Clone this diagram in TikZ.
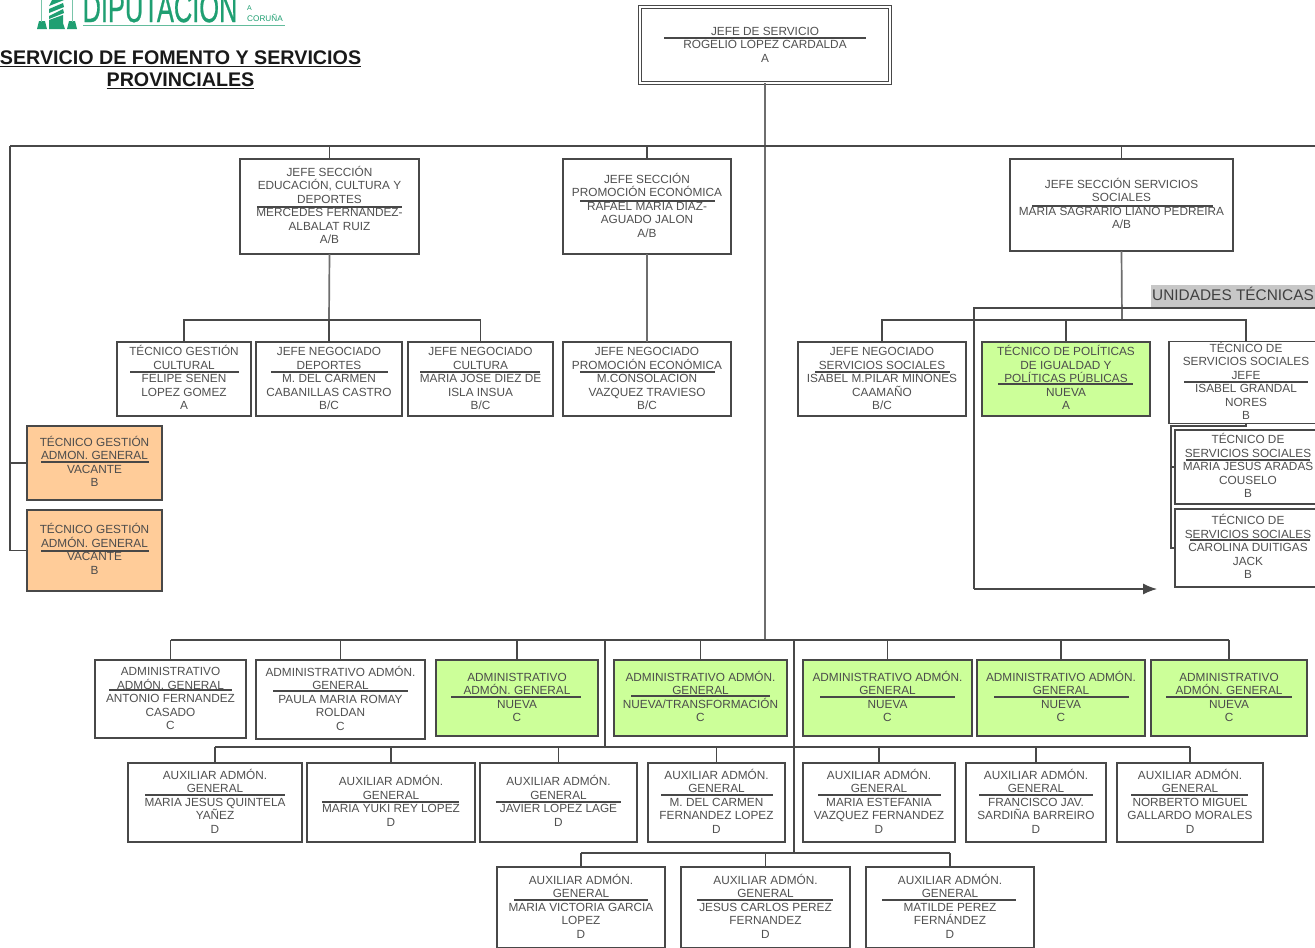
\documentclass[tikz,border=0pt]{standalone}
\usepackage{fontspec}
\setmainfont{Liberation Sans}
\newfontfamily\logofont[FakeBold=0.8]{Liberation Sans}
\usetikzlibrary{arrows.meta}
\definecolor{ink}{HTML}{484848}
\definecolor{txt}{HTML}{505050}
\definecolor{trunkc}{HTML}{6E6E6E}
\definecolor{newg}{HTML}{CCFF99}
\definecolor{vac}{HTML}{FFCC99}
\definecolor{logog}{HTML}{1F9F72}
\tikzset{
  orgbox/.style={draw=ink,line width=1.3pt,fill=white,inner sep=0pt,outer sep=0pt,align=center,text=txt,
    font=\fontsize{11.8}{13.5}\selectfont},
  newbox/.style={orgbox,fill=newg,text=black!70},
  vacbox/.style={orgbox,fill=vac,text=black!70},
  chief/.style={orgbox,double=white,double distance=1.6pt,line width=1.1pt},
  link/.style={draw=ink,line width=1.2pt},
  trunk/.style={draw=trunkc,line width=1.7pt},
  divider/.style={draw=ink,line width=1.2pt},
}
% [style]{name}{x1}{y1}{x2}{y2}{text}
\newcommand{\obox}[7][orgbox]{%
  \pgfmathsetmacro{\oW}{#5-#3}\pgfmathsetmacro{\oH}{#6-#4}%
  \pgfmathsetmacro{\oX}{(#3+#5)/2}\pgfmathsetmacro{\oY}{(#4+#6)/2}%
  \node[#1,minimum width=\oW pt,minimum height=\oH pt] (#2) at (\oX,\oY) {\rule{0pt}{11pt}#7\rule[-4pt]{0pt}{4pt}};%
}
\newcommand{\orule}[3]{\draw[divider] (#1,#3) -- (#2,#3);}
\begin{document}
\begin{tikzpicture}[x=1pt,y=-1pt]
\useasboundingbox (0,0) rectangle (1315,948);
\clip (0,0) rectangle (1315,948);
\fill[white] (0,0) rectangle (1315,948);

% logo
\fill[logog] (37,29) -- (39,21) -- (45,21) -- (47,29) -- cycle;
\fill[logog] (67,29) -- (69,21) -- (75,21) -- (77,29) -- cycle;
\draw[logog!60,line width=.8pt] (41.5,0) -- (41.5,22) (72.5,0) -- (72.5,22);
\fill[logog] (49,29) -- (49,20) -- (63,15) -- (63,23) -- (65,29) -- cycle;
\fill[logog] (49,16) -- (63,9) -- (64,13) -- (49,19) -- cycle;
\fill[logog] (49,9) -- (63,3) -- (64,7) -- (49,13) -- cycle;
\fill[logog] (52,0) -- (64,0) -- (49,6) -- cycle;
\node[anchor=base,inner sep=0pt,text=logog,font=\logofont\fontsize{41}{41}\selectfont] (logoword) at (160,22) {\scalebox{.62}[1]{DIPUTACIÓN}};
\draw[logog!70,line width=1pt] (83,25) -- (285,25);
\node[anchor=base west,inner sep=0pt,text=logog,font=\fontsize{7}{8}\selectfont] (logoa) at (247,10) {A};
\node[anchor=base west,inner sep=0pt,text=logog,font=\fontsize{8.2}{8}\selectfont] (logoc) at (247,21) {CORUÑA};

% title
\node[align=center,inner sep=0pt,text=black!90,font=\fontsize{19.7}{22}\bfseries\selectfont] (title) at (180.5,70)
  {\underline{SERVICIO DE FOMENTO Y SERVICIOS}\\\underline{PROVINCIALES}};

% label
\fill[black!22] (1151,285) rectangle (1315,307);
\node[anchor=base west,inner sep=0pt,text=black!75,font=\fontsize{15.4}{16}\selectfont] (unidades) at (1152,300.5) {UNIDADES TÉCNICAS};

% boxes
\obox[chief]{jefe}{640}{7}{890}{83}{JEFE DE SERVICIO\\ROGELIO LOPEZ CARDALDA\\A}
\orule{664}{866}{38}
\obox{secedu}{240}{159}{419}{254}{JEFE SECCIÓN\\EDUCACIÓN, CULTURA  Y\\DEPORTES\\MERCEDES FERNANDEZ-\\ALBALAT RUIZ\\A/B}
\orule{257}{402}{207}
\obox{secprom}{563}{159}{731}{254}{JEFE SECCIÓN\\PROMOCIÓN ECONÓMICA\\RAFAEL MARIA DIAZ-\\AGUADO JALON\\A/B}
\orule{580}{715}{201}
\obox{secserv}{1010}{159}{1233}{251}{JEFE SECCIÓN SERVICIOS\\SOCIALES\\MARIA SAGRARIO LIANO PEDREIRA\\A/B}
\orule{1032}{1213}{206}

\obox{tgc}{117}{342}{251}{416}{TÉCNICO GESTIÓN\\CULTURAL\\FELIPE SENEN\\LOPEZ GOMEZ\\A}
\orule{130}{239}{372}
\obox{jnd}{256}{342}{402}{416}{JEFE NEGOCIADO\\DEPORTES\\M. DEL CARMEN\\CABANILLAS CASTRO\\B/C}
\orule{271}{388}{372}
\obox{jnc}{408}{342}{553}{416}{JEFE NEGOCIADO\\CULTURA\\MARIA JOSE DIEZ DE\\ISLA INSUA\\B/C}
\orule{420}{540}{372}
\obox{jnp}{563}{342}{731}{416}{JEFE NEGOCIADO\\PROMOCIÓN ECONÓMICA\\M.CONSOLACION\\VAZQUEZ TRAVIESO\\B/C}
\orule{580}{715}{372}
\obox{jns}{798}{342}{966}{416}{JEFE NEGOCIADO\\SERVICIOS SOCIALES\\ISABEL M.PILAR MIÑONES\\CAAMAÑO\\B/C}
\orule{815}{950}{372}
\obox[newbox]{tpol}{982}{342}{1150}{416}{TÉCNICO DE POLÍTICAS\\DE IGUALDAD Y\\POLÍTICAS PÚBLICAS\\NUEVA\\A}
\orule{998}{1133}{384}
\obox{tsj}{1169}{342}{1323}{423}{TÉCNICO DE\\SERVICIOS SOCIALES\\JEFE\\ISABEL GRANDAL\\NORES\\B}
\orule{1184}{1308}{382}
\obox{tsa}{1175}{430}{1321}{504}{TÉCNICO DE\\SERVICIOS SOCIALES\\MARIA JESUS ARADAS\\COUSELO\\B}
\orule{1186}{1310}{460}
\obox{tsb}{1175}{509}{1321}{587}{TÉCNICO DE\\SERVICIOS SOCIALES\\CAROLINA DUITIGAS\\JACK\\B}
\orule{1190}{1310}{540}

\obox[vacbox]{tga}{27}{426}{162}{500}{TÉCNICO GESTIÓN\\ADMON. GENERAL\\VACANTE\\B}
\orule{41}{149}{462}
\obox[vacbox]{tgb}{27}{510}{162}{591}{TÉCNICO GESTIÓN\\ADMÓN. GENERAL\\VACANTE\\B}
\orule{41}{149}{551}

\obox{ad1}{95}{660}{246}{738}{ADMINISTRATIVO\\ADMÓN. GENERAL\\ANTONIO FERNANDEZ\\CASADO\\C}
\orule{109}{232}{690}
\obox{ad2}{256}{660}{425}{739}{ADMINISTRATIVO ADMÓN.\\GENERAL\\PAULA MARIA ROMAY\\ROLDAN\\C}
\orule{273}{408}{691}
\obox[newbox]{ad3}{436}{660}{598}{736}{ADMINISTRATIVO\\ADMÓN. GENERAL\\NUEVA\\C}
\orule{451}{581}{697}
\obox[newbox]{ad4}{614}{660}{787}{736}{ADMINISTRATIVO ADMÓN.\\GENERAL\\NUEVA/TRANSFORMACIÓN\\C}
\orule{631}{770}{696}
\obox[newbox]{ad5}{803}{660}{972}{736}{ADMINISTRATIVO ADMÓN.\\GENERAL\\NUEVA\\C}
\orule{820}{955}{697}
\obox[newbox]{ad6}{977}{660}{1145}{736}{ADMINISTRATIVO ADMÓN.\\GENERAL\\NUEVA\\C}
\orule{994}{1129}{697}
\obox[newbox]{ad7}{1151}{660}{1307}{736}{ADMINISTRATIVO\\ADMÓN. GENERAL\\NUEVA\\C}
\orule{1166}{1292}{697}

\obox{au1}{128}{763}{302}{842}{AUXILIAR ADMÓN.\\GENERAL\\MARIA JESUS QUINTELA\\YAÑEZ\\D}
\orule{145}{285}{795}
\obox{au2}{307}{763}{475}{842}{AUXILIAR ADMÓN.\\GENERAL\\MARIA YUKI REY LOPEZ\\D}
\orule{322}{459}{802}
\obox{au3}{480}{763}{637}{842}{AUXILIAR ADMÓN.\\GENERAL\\JAVIER LOPEZ LAGE\\D}
\orule{496}{621}{802}
\obox{au4}{648}{763}{785}{842}{AUXILIAR ADMÓN.\\GENERAL\\M. DEL CARMEN\\FERNANDEZ LOPEZ\\D}
\orule{661}{773}{795}
\obox{au5}{803}{763}{955}{842}{AUXILIAR ADMÓN.\\GENERAL\\MARIA ESTEFANIA\\VAZQUEZ FERNANDEZ\\D}
\orule{818}{941}{795}
\obox{au6}{966}{763}{1106}{842}{AUXILIAR ADMÓN.\\GENERAL\\FRANCISCO JAV.\\SARDIÑA BARREIRO\\D}
\orule{979}{1093}{795}
\obox{au7}{1117}{763}{1263}{842}{AUXILIAR ADMÓN.\\GENERAL\\NORBERTO MIGUEL\\GALLARDO MORALES\\D}
\orule{1131}{1248}{795}

\obox{av1}{497}{867}{665}{948}{AUXILIAR ADMÓN.\\GENERAL\\MARIA VICTORIA GARCIA\\LOPEZ\\D}
\orule{514}{648}{900}
\obox{av2}{681}{867}{850}{948}{AUXILIAR ADMÓN.\\GENERAL\\JESUS CARLOS PEREZ\\FERNANDEZ\\D}
\orule{697}{833}{900}
\obox{av3}{866}{867}{1034}{948}{AUXILIAR ADMÓN.\\GENERAL\\MATILDE PEREZ\\FERNÁNDEZ\\D}
\orule{882}{1016}{900}

% junction coordinates
\coordinate (topjoin) at (765,146);
\coordinate (topleft) at (10,146);
\coordinate (topright) at (1320,146);
\coordinate (lowjoin) at (765,640);
\coordinate (edubus) at (329,320);
\coordinate (servbus) at (1122,320);
\coordinate (row3l) at (170.5,640);
\coordinate (row3r) at (1229,640);
\coordinate (tap4) at (605,640);
\coordinate (tap5) at (794,640);
\coordinate (bus4) at (605,747);
\coordinate (bus5) at (794,853);
\coordinate (uni0) at (1320,308);
\coordinate (uni1) at (974,308);
\coordinate (uni2) at (974,589);
\coordinate (uni3) at (1157,589);
\coordinate (ts0) at (1246,426);
\coordinate (ts1) at (1171,426);
\coordinate (ts2) at (1171,548);
\coordinate (ts3) at (1171,467);

% connectors
\draw[trunk] (jefe.south) -- (lowjoin);
\draw[link] (topleft) -- (topright);
\draw[link] (topleft) |- (tgb.west);
\draw[link] (tga.west -| topleft) -- (tga.west);
\draw[link] (topjoin -| secedu.north) -- (secedu.north);
\draw[link] (topjoin -| secprom.north) -- (secprom.north);
\draw[link] (topjoin -| secserv.north) -- (secserv.north);
\draw[trunk] (secedu.south) -- (edubus);
\draw[link] (edubus) -| (tgc.north);
\draw[link] (edubus) -| (jnc.north);
\draw[link] (edubus) -- (jnd.north);
\draw[trunk] (secprom.south) -- (jnp.north);
\draw[trunk] (secserv.south) -- (servbus);
\draw[link] (servbus) -| (jns.north);
\draw[link] (servbus) -| (tsj.north);
\draw[link] (tpol.north |- servbus) -- (tpol.north);
\draw[link] (uni0) -- (uni1) -- (uni2);
\draw[link,-{Latex[length=14pt,width=11pt]}] (uni2) -- (uni3);
\draw[link] (tsj.south) -- (ts0) -- (ts1) -- (ts2) -- (tsb.west);
\draw[link] (ts3) -- (tsa.west);
\draw[link] (row3l) -- (row3r);
\foreach \n in {ad1,ad2,ad3,ad4,ad5,ad6,ad7}{\draw[link] (lowjoin -| \n.north) -- (\n.north);}
\draw[link] (tap4) -- (bus4);
\draw[link] (tap5) -- (bus5);
\draw[link] (bus4 -| au1.north) -- (bus4 -| au7.north);
\foreach \n in {au1,au2,au3,au4,au5,au6,au7}{\draw[link] (bus4 -| \n.north) -- (\n.north);}
\draw[link] (bus5 -| av1.north) -- (bus5 -| av3.north);
\foreach \n in {av1,av2,av3}{\draw[link] (bus5 -| \n.north) -- (\n.north);}
\end{tikzpicture}
\end{document}
